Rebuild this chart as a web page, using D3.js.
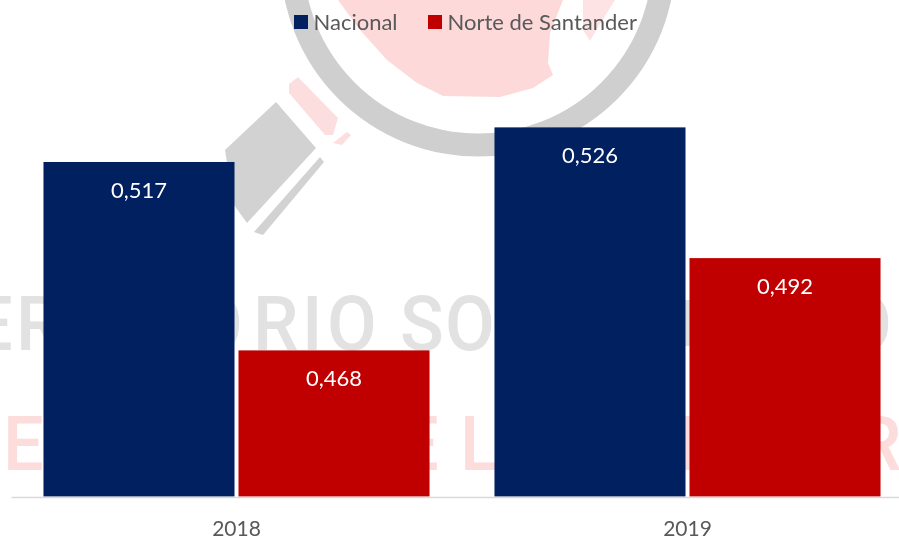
<!DOCTYPE html>
<html><head><meta charset="utf-8">
<script src="https://cdnjs.cloudflare.com/ajax/libs/d3/7.8.5/d3.min.js"></script>
<style>html,body{margin:0;padding:0;background:#fff;overflow:hidden}svg{display:block}text{font-family:Lato,"Open Sans",sans-serif}</style>
</head><body><svg id="c" width="899" height="543"></svg>
<script>
const categories = ["2018", "2019"];
const seriesNames = ["Nacional", "Norte de Santander"];
const nacional = [0.517, 0.526];
const norteDeSantander = [0.468, 0.492];
const labels = [["0,517", "0,526"], ["0,468", "0,492"]];
const seriesColors = ["#002060", "#C00000"];

const svg = d3.select("#c");
svg.append("defs").append("filter").attr("id", "soft")
  .append("feGaussianBlur").attr("stdDeviation", 0.6);
const bg = svg.append("g").attr("class", "watermark").attr("filter", "url(#soft)");

// faded background logo
bg.append("circle").attr("cx", 478).attr("cy", -41).attr("r", 186)
  .attr("fill", "none").attr("stroke", "#cfcfcf").attr("stroke-width", 23);
const line = d3.line();
const blobs = [
  {c:"#fdd9d9", p:[[338,0],[360,30],[387,60],[417,83],[443,96],[500,97],[533,88],[553,75],[548,63],[550,33],[563,0]]},
  {c:"#fde3e3", p:[[583,0],[615,0],[600,24],[590,41],[583,30]]},
  {c:"#fddede", p:[[298,77],[289,84],[289,93],[325,135],[333,135],[338,118]]},
  {c:"#fddede", p:[[347,132],[351,135],[342,145],[333,143]]},
  {c:"#d2d2d2", p:[[276,102],[316,148],[247,223],[234,205],[225,150]]},
  {c:"#d2d2d2", p:[[320,157],[324,162],[263,235],[254,232]]},
  {c:"#e2e2e2", p:[[684,300],[690,300],[690,346],[684,346]]},
  {c:"#fddcdc", p:[[684,416],[690,416],[690,470],[684,470]]}
];
blobs.forEach(b => bg.append("path").attr("d", line(b.p) + "Z").attr("fill", b.c));

// visible fragments of the faded wordmark: [text, per-character x]
const sx = 0.95;
const wmGray = [["ER", [-28, 16]], ["ORIO SO", [193, 253, 302, 327, 390, 400, 445]], ["O", [842]]];
const wmRed = [["E", [3]], ["E L", [398, 445, 460]], ["R", [856]]];
const addWm = (rows, base, fill) => rows.forEach(([t, xs]) => {
  bg.append("text").attr("transform", `scale(${sx},1)`)
    .attr("x", xs.map(v => (v / sx).toFixed(1)).join(" ")).attr("y", base)
    .attr("font-size", 76).attr("font-weight", 500).style("font-family", "Roboto")
    .attr("fill", fill).text(t);
});
addWm(wmGray, 350, "#e2e2e2");
addWm(wmRed, 470, "#fddcdc");

const x0 = d3.scaleBand().domain(categories).range([11, 913]).paddingInner(0.144).paddingOuter(0.072);
const x1 = d3.scaleBand().domain(seriesNames).range([0, x0.bandwidth()]).paddingInner(0.0205);
const y = d3.scaleLinear().domain([0.43, 0.55]).range([496.5, 35.1]);
const color = d3.scaleOrdinal().domain(seriesNames).range(seriesColors);
const values = [nacional, norteDeSantander];

seriesNames.forEach((s, si) => {
  const g = svg.append("g");
  const data = categories.map((c, i) => ({c, v: values[si][i], l: labels[si][i]}));
  g.selectAll("rect").data(data).join("rect")
    .attr("x", d => x0(d.c) + x1(s)).attr("y", d => y(d.v))
    .attr("width", x1.bandwidth()).attr("height", d => y(0.43) - y(d.v))
    .attr("fill", color(s));
  g.selectAll("text").data(data).join("text")
    .attr("x", d => x0(d.c) + x1(s) + x1.bandwidth() / 2).attr("y", d => y(d.v) + 36)
    .attr("text-anchor", "middle").attr("font-size", 22).attr("fill", "#fff").text(d => d.l);
});

const ax = svg.append("g").attr("transform", "translate(0,497)")
  .call(d3.axisBottom(x0).tickSize(0).tickPadding(24));
ax.select(".domain").attr("stroke", "#D9D9D9").attr("stroke-width", 1.5);
ax.selectAll("text").attr("font-size", 21).attr("fill", "#595959").style("font-family", "Lato");

const legendX = [294, 428];
seriesNames.forEach((s, i) => {
  svg.append("rect").attr("x", legendX[i]).attr("y", 15).attr("width", 14).attr("height", 14).attr("fill", color(s));
  svg.append("text").attr("x", legendX[i] + 19.5).attr("y", 29.5).attr("font-size", 22).attr("fill", "#595959").text(s);
});
</script></body></html>
